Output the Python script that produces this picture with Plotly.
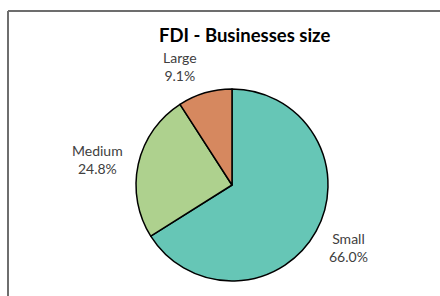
import plotly.graph_objects as go

categories = ["Small", "Medium", "Large"]
shares = [66.0, 24.8, 9.1]
colors = ["#66C6B6", "#AED18E", "#D6885F"]
title_text = "FDI - Businesses size"

W, H = 440, 296
cx, cy, r = 232, 185, 96

fig = go.Figure(go.Pie(
    labels=categories,
    values=shares,
    sort=False,
    direction="clockwise",
    rotation=0,
    marker=dict(colors=colors, line=dict(color="#000000", width=1.5)),
    textinfo="none",
    hoverinfo="label+percent",
    showlegend=False,
    domain=dict(x=[(cx - r) / W, (cx + r) / W], y=[(H - cy - r) / H, (H - cy + r) / H]),
))

# label positions (pixel coords of text centres, as in the reference layout)
label_pos = {"Small": (348, 247), "Medium": (97, 159), "Large": (180, 66)}
annotations = []
for cat, val in zip(categories, shares):
    px, py = label_pos[cat]
    annotations.append(dict(
        x=px / W, y=1 - py / H, xref="paper", yref="paper",
        text=f"{cat}<br>{val:.1f}%", showarrow=False,
        font=dict(family="Lato, Open Sans, sans-serif", size=14, color="#404040"),
        xanchor="center", yanchor="middle", align="center",
    ))
annotations.append(dict(
    x=244 / W, y=1 - 35 / H, xref="paper", yref="paper",
    text=f"<b>{title_text}</b>", showarrow=False,
    font=dict(family="Lato, Open Sans, sans-serif", size=18.5, color="#000000"),
    xanchor="center", yanchor="middle",
))

top_y = 1 - 11 / H
left_x = 8 / W
fig.update_layout(
    width=W, height=H,
    margin=dict(l=0, r=0, t=0, b=0),
    paper_bgcolor="white", plot_bgcolor="white",
    annotations=annotations,
    shapes=[
        dict(type="line", xref="paper", yref="paper", x0=left_x, x1=1, y0=top_y, y1=top_y,
             line=dict(color="#3c3c3c", width=1.6)),
        dict(type="line", xref="paper", yref="paper", x0=left_x, x1=left_x, y0=0, y1=top_y,
             line=dict(color="#6e6e6e", width=2)),
    ],
)

fig.write_html(
    "out.html", config={"displayModeBar": False},
    post_script=("document.body.style.margin='0';document.body.style.overflow='hidden';"
                 "document.documentElement.style.overflow='hidden';window.scrollTo(0,0);"),
)
